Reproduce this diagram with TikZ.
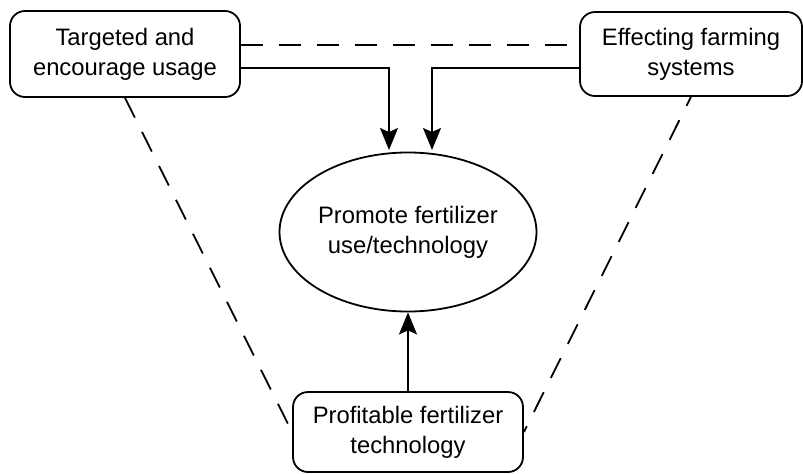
\documentclass[tikz,border=0pt]{standalone}
\usepackage{fontspec}
\setmainfont{Liberation Sans}
\usetikzlibrary{arrows.meta,shapes.geometric}
\begin{document}
\begin{tikzpicture}[x=0.5pt,y=-0.5pt,line width=0.9pt,
    box/.style={draw,rounded corners=7.5pt,align=center,inner sep=0pt,font=\fontsize{11.9}{15}\selectfont},
    goal/.style={draw,ellipse,align=center,inner sep=0pt,minimum width=128.5pt,minimum height=79.5pt,font=\fontsize{11.9}{15}\selectfont},
    link/.style={dash pattern=on 11pt off 8pt},
    arr/.style={-{Stealth[length=11pt,width=9pt,inset=2pt]}}]
    \useasboundingbox (0,0) rectangle (803,473);
    \node[box,minimum width=115pt,minimum height=43pt] (tl) at (125,54) {Targeted and\\encourage usage};
    \node[box,minimum width=111pt,minimum height=42pt] (tr) at (691,54) {Effecting farming\\systems};
    \node[box,minimum width=115pt,minimum height=40pt] (bt) at (408,432) {Profitable fertilizer\\technology};
    \node[goal] (ell) at (408,232) {Promote fertilizer\\use/technology};
    \coordinate (inL) at (389,150);
    \coordinate (inR) at (432,150);
    \draw[link] ([yshift=4.5pt]tl.east) -- ([yshift=4.5pt]tl.east -| tr.west);
    \draw[arr] ([yshift=-7pt]tl.east) -| (inL);
    \draw[arr] ([yshift=-7pt]tr.west) -| (inR);
    \draw[arr] (bt.north) -- (ell.south);
    \draw[link] (tl.south) -- (bt.west);
    \draw[link,dash phase=6pt] (tr.south) -- (bt.east);
\end{tikzpicture}
\end{document}
